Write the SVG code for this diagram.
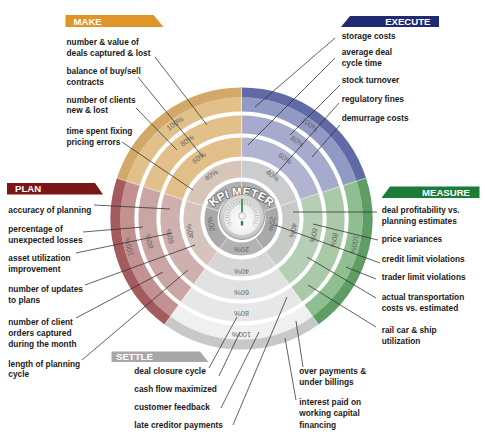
<svg xmlns="http://www.w3.org/2000/svg" width="485" height="439" viewBox="0 0 485 439">
<style>
.lbl{font-family:"Liberation Sans",Arial,sans-serif;font-weight:bold;font-size:8.3px;fill:#1a1a1a}
.hdr{font-family:"Liberation Sans",Arial,sans-serif;font-weight:bold;font-size:9.6px;fill:#fff}
.pct{font-family:"Liberation Sans",Arial,sans-serif;font-size:7.4px;fill:#666;text-anchor:middle;dominant-baseline:central}
.ring{fill:none}
.rk{stroke-width:13;stroke-dasharray:38.7 1000}
.r4{stroke-width:17;stroke-dasharray:62.6 1000}
.r6{stroke-width:19;stroke-dasharray:90.2 1000}
.r8{stroke-width:18;stroke-dasharray:118.5 1000}
.r10{stroke-width:14;stroke-dasharray:143.6 1000}
.rd{stroke-width:10;stroke-dasharray:158.7 1000}
.sep{stroke:#fff;stroke-opacity:.55;stroke-width:1}
#connectors line{stroke:#2e2e2e;stroke-width:.75}
</style>
<defs>
<radialGradient id="bezel" cx="50%" cy="45%" r="55%">
<stop offset="0" stop-color="#f6f6f6"/><stop offset=".75" stop-color="#d8d8d8"/><stop offset="1" stop-color="#b9b9b9"/>
</radialGradient>
<radialGradient id="face" cx="50%" cy="60%" r="60%">
<stop offset="0" stop-color="#ffffff"/><stop offset=".7" stop-color="#ededed"/><stop offset="1" stop-color="#d2d2d2"/>
</radialGradient>
<path id="kpiArc" d="M207.5,214.4 A40,40 0 0 1 275.5,214.4"/>
</defs>
<rect width="485" height="439" fill="#fff"/>

<g id="execute">
<g transform="rotate(-90 241.5 218.5)">
<circle class="ring rk" cx="241.5" cy="218.5" r="30.5" stroke="#B0B0B0"/>
<circle class="ring r4" cx="241.5" cy="218.5" r="49.5" stroke="#CBCCCE"/>
<circle class="ring r6" cx="241.5" cy="218.5" r="71.5" stroke="#B1B4D1"/>
<circle class="ring r8" cx="241.5" cy="218.5" r="94" stroke="#A6ABCE"/>
<circle class="ring r10" cx="241.5" cy="218.5" r="114" stroke="#9199C5"/>
<circle class="ring rd" cx="241.5" cy="218.5" r="126" stroke="#5F6AA7"/>
</g>
<text class="pct" transform="translate(272.6 175.6) rotate(36)">40%</text>
<text class="pct" transform="translate(285 158.6) rotate(36)">60%</text>
<text class="pct" transform="translate(297.3 141.6) rotate(36)">80%</text>
<text class="pct" transform="translate(309.7 124.7) rotate(36)">100%</text>
<polygon points="350,16 439,16 439,27 341,27" fill="#1F2A73"/>
<text class="hdr" x="430.5" y="25.3" text-anchor="end">EXECUTE</text>
<text class="lbl" x="341.7" y="39">storage costs</text>
<text class="lbl" x="341.7" y="55">average deal</text>
<text class="lbl" x="341.7" y="66">cycle time</text>
<text class="lbl" x="341.7" y="83.3">stock turnover</text>
<text class="lbl" x="341.7" y="101.7">regulatory fines</text>
<text class="lbl" x="341.7" y="120.7">demurrage costs</text>
</g>

<g id="measure">
<g transform="rotate(-18 241.5 218.5)">
<circle class="ring rk" cx="241.5" cy="218.5" r="30.5" stroke="#A9A9A9"/>
<circle class="ring r4" cx="241.5" cy="218.5" r="49.5" stroke="#C6CBC6"/>
<circle class="ring r6" cx="241.5" cy="218.5" r="71.5" stroke="#B4CFB3"/>
<circle class="ring r8" cx="241.5" cy="218.5" r="94" stroke="#A9C9A8"/>
<circle class="ring r10" cx="241.5" cy="218.5" r="114" stroke="#8FBF91"/>
<circle class="ring rd" cx="241.5" cy="218.5" r="126" stroke="#5E9D63"/>
</g>
<text class="pct" transform="translate(272 223.9) rotate(100)">20%</text>
<text class="pct" transform="translate(293.1 230.4) rotate(103)">40%</text>
<text class="pct" transform="translate(313.6 235.2) rotate(103)">60%</text>
<text class="pct" transform="translate(334.1 239.9) rotate(103)">80%</text>
<text class="pct" transform="translate(354.5 244.6) rotate(103)">100%</text>
<polygon points="390,186.5 479.5,186.5 479.5,198 381.5,198" fill="#1B7B37"/>
<text class="hdr" x="470" y="196.2" text-anchor="end">MEASURE</text>
<text class="lbl" x="381.7" y="213.3">deal profitability vs.</text>
<text class="lbl" x="381.7" y="224">planning estimates</text>
<text class="lbl" x="381.7" y="242.3">price variances</text>
<text class="lbl" x="381.7" y="262.3">credit limit violations</text>
<text class="lbl" x="381.7" y="280">trader limit violations</text>
<text class="lbl" x="381.7" y="300">actual transportation</text>
<text class="lbl" x="381.7" y="310.7">costs vs. estimated</text>
<text class="lbl" x="381.7" y="333.3">rail car &amp; ship</text>
<text class="lbl" x="381.7" y="344">utilization</text>
</g>

<g id="settle">
<g transform="rotate(54 241.5 218.5)">
<circle class="ring rk" cx="241.5" cy="218.5" r="30.5" stroke="#B3B3B3"/>
<circle class="ring r4" cx="241.5" cy="218.5" r="49.5" stroke="#D6D6D6"/>
<circle class="ring r6" cx="241.5" cy="218.5" r="71.5" stroke="#E1E1E1"/>
<circle class="ring r8" cx="241.5" cy="218.5" r="94" stroke="#E7E7E7"/>
<circle class="ring r10" cx="241.5" cy="218.5" r="114" stroke="#F0F0F0"/>
<circle class="ring rd" cx="241.5" cy="218.5" r="126" stroke="#C8C8C8"/>
</g>
<text class="pct" transform="translate(241.5 249.5) rotate(180)">20%</text>
<text class="pct" transform="translate(241.5 271.5) rotate(180)">40%</text>
<text class="pct" transform="translate(241.5 292.5) rotate(180)">60%</text>
<text class="pct" transform="translate(241.5 313.5) rotate(180)">80%</text>
<text class="pct" transform="translate(241.5 334.5) rotate(180)">100%</text>
<polygon points="111.5,351.5 200,351.5 208.5,362 111.5,362" fill="#A8A8A8"/>
<text class="hdr" x="116" y="360.2">SETTLE</text>
<text class="lbl" x="134.3" y="374">deal closure cycle</text>
<text class="lbl" x="134.3" y="391.7">cash flow maximized</text>
<text class="lbl" x="134.3" y="410">customer feedback</text>
<text class="lbl" x="134.3" y="427.5">late creditor payments</text>
<text class="lbl" x="299.3" y="374">over payments &amp;</text>
<text class="lbl" x="299.3" y="385">under billings</text>
<text class="lbl" x="299.3" y="405">interest paid on</text>
<text class="lbl" x="299.3" y="416.3">working capital</text>
<text class="lbl" x="299.3" y="427.6">financing</text>
</g>

<g id="plan">
<g transform="rotate(126 241.5 218.5)">
<circle class="ring rk" cx="241.5" cy="218.5" r="30.5" stroke="#A9A9A9"/>
<circle class="ring r4" cx="241.5" cy="218.5" r="49.5" stroke="#D5C3BC"/>
<circle class="ring r6" cx="241.5" cy="218.5" r="71.5" stroke="#CFB0AF"/>
<circle class="ring r8" cx="241.5" cy="218.5" r="94" stroke="#C9A5A4"/>
<circle class="ring r10" cx="241.5" cy="218.5" r="114" stroke="#C39191"/>
<circle class="ring rd" cx="241.5" cy="218.5" r="126" stroke="#A35B5D"/>
</g>
<text class="pct" transform="translate(211 223.9) rotate(-100)">20%</text>
<text class="pct" transform="translate(190.1 231.3) rotate(-104)">40%</text>
<text class="pct" transform="translate(169.7 236.4) rotate(-104)">60%</text>
<text class="pct" transform="translate(149.3 241.5) rotate(-104)">80%</text>
<text class="pct" transform="translate(128.9 246.6) rotate(-104)">100%</text>
<polygon points="7,183 95,183 103,194.5 7,194.5" fill="#7C1518"/>
<text class="hdr" x="15" y="192">PLAN</text>
<text class="lbl" x="8.3" y="213.3">accuracy of planning</text>
<text class="lbl" x="8.3" y="231.7">percentage of</text>
<text class="lbl" x="8.3" y="242.7">unexpected losses</text>
<text class="lbl" x="8.3" y="260.7">asset utilization</text>
<text class="lbl" x="8.3" y="271.7">improvement</text>
<text class="lbl" x="8.3" y="291.7">number of updates</text>
<text class="lbl" x="8.3" y="302.7">to plans</text>
<text class="lbl" x="8.3" y="325">number of client</text>
<text class="lbl" x="8.3" y="336">orders captured</text>
<text class="lbl" x="8.3" y="347.3">during the month</text>
<text class="lbl" x="8.3" y="366.7">length of planning</text>
<text class="lbl" x="8.3" y="377.3">cycle</text>
</g>

<g id="make">
<g transform="rotate(198 241.5 218.5)">
<circle class="ring rk" cx="241.5" cy="218.5" r="30.5" stroke="#B0B0B0"/>
<circle class="ring r4" cx="241.5" cy="218.5" r="49.5" stroke="#D7C6B8"/>
<circle class="ring r6" cx="241.5" cy="218.5" r="71.5" stroke="#E2BF89"/>
<circle class="ring r8" cx="241.5" cy="218.5" r="94" stroke="#E3C08A"/>
<circle class="ring r10" cx="241.5" cy="218.5" r="114" stroke="#E2C089"/>
<circle class="ring rd" cx="241.5" cy="218.5" r="126" stroke="#D3A96A"/>
</g>
<text class="pct" transform="translate(211.1 175.1) rotate(-35)">40%</text>
<text class="pct" transform="translate(199 157.9) rotate(-35)">60%</text>
<text class="pct" transform="translate(187 140.7) rotate(-35)">80%</text>
<text class="pct" transform="translate(175 123.5) rotate(-35)">100%</text>
<polygon points="65.5,15 153.5,15 163.5,27 65.5,27" fill="#DF9528"/>
<text class="hdr" x="73.5" y="24.5">MAKE</text>
<text class="lbl" x="66.5" y="45">number &amp; value of</text>
<text class="lbl" x="66.5" y="55.5">deals captured &amp; lost</text>
<text class="lbl" x="66.5" y="74">balance of buy/sell</text>
<text class="lbl" x="66.5" y="84.5">contracts</text>
<text class="lbl" x="66.5" y="102.7">number of clients</text>
<text class="lbl" x="66.5" y="113.3">new &amp; lost</text>
<text class="lbl" x="66.5" y="134">time spent fixing</text>
<text class="lbl" x="66.5" y="144.7">pricing errors</text>
</g>

<g id="separators">
<line class="sep" x1="241.5" y1="194.5" x2="241.5" y2="87.5"/>
<line class="sep" x1="264.3" y1="211.1" x2="366.1" y2="178"/>
<line class="sep" x1="255.6" y1="237.9" x2="318.5" y2="324.5"/>
<line class="sep" x1="227.4" y1="237.9" x2="164.5" y2="324.5"/>
<line class="sep" x1="218.7" y1="211.1" x2="116.9" y2="178"/>
</g>

<g id="kpi-meter">
<text font-family="'Liberation Sans',Arial,sans-serif" font-weight="bold" font-size="11.5" fill="#fff" stroke="#6e6e6e" stroke-width="1.8" paint-order="stroke" stroke-linejoin="round" text-anchor="middle"><textPath href="#kpiArc" startOffset="50%">KPI METER</textPath></text>
<circle cx="242" cy="217" r="22.5" fill="url(#bezel)" stroke="#909090" stroke-width=".8"/>
<circle cx="242" cy="217" r="18.5" fill="url(#face)" stroke="#c4c4c4" stroke-width=".6"/>
<path d="M229.7,225.6 A15,15 0 1 1 254.3,225.6" fill="none" stroke="#9a9a9a" stroke-width="3" stroke-dasharray=".5 2.2"/>
<path d="M231.4,224.4 A13,13 0 1 1 252.6,224.4" fill="none" stroke="#b5b5b5" stroke-width=".5"/>
<line x1="242" y1="214" x2="242" y2="199" stroke="#1E8B3E" stroke-width="1.6"/>
<circle cx="242" cy="216" r="3.4" fill="#f4f4f4" stroke="#9a9a9a" stroke-width=".6"/>
<rect x="240.8" y="221" width="2.4" height="4.5" fill="#1E8B3E"/>
</g>

<g id="connectors">
<line x1="155" y1="57" x2="207" y2="125"/>
<line x1="138" y1="77" x2="203" y2="157"/>
<line x1="136" y1="108" x2="177" y2="150"/>
<line x1="122" y1="142" x2="193" y2="190"/>
<line x1="335" y1="38" x2="255" y2="107"/>
<line x1="335" y1="58" x2="248" y2="145"/>
<line x1="340" y1="85" x2="290" y2="135"/>
<line x1="339" y1="103" x2="276" y2="174"/>
<line x1="340" y1="125" x2="312" y2="157"/>
<line x1="94" y1="205" x2="170" y2="209"/>
<line x1="83" y1="232" x2="143" y2="227"/>
<line x1="76" y1="253" x2="172" y2="233"/>
<line x1="85" y1="285" x2="195" y2="245"/>
<line x1="76" y1="318" x2="163" y2="272"/>
<line x1="82" y1="360" x2="188" y2="270"/>
<line x1="377" y1="212" x2="293" y2="212"/>
<line x1="378" y1="240" x2="313" y2="224"/>
<line x1="380" y1="263" x2="275" y2="225"/>
<line x1="376" y1="279" x2="346" y2="267"/>
<line x1="376" y1="298" x2="307" y2="257"/>
<line x1="376" y1="327" x2="308" y2="285"/>
<line x1="209" y1="368" x2="237" y2="317"/>
<line x1="219" y1="376" x2="240" y2="332"/>
<line x1="221" y1="408" x2="259" y2="332"/>
<line x1="233" y1="425" x2="287" y2="297"/>
<line x1="303" y1="367" x2="296" y2="321"/>
<line x1="296" y1="400" x2="285" y2="338"/>
</g>
</svg>
